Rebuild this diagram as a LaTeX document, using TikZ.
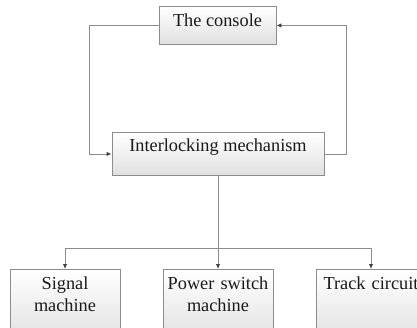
\documentclass[tikz,border=0pt]{standalone}
\usepackage{fontspec}
\setmainfont{Liberation Serif}
\usetikzlibrary{arrows.meta,positioning}
\colorlet{edge}{black!45}

\begin{document}
\begin{tikzpicture}[x=1pt,y=-1pt,
    box/.style={draw=edge,line width=0.9pt,top color=white,bottom color=black!12,
      inner sep=0pt,text=black!90,font=\fontsize{18.3}{22}\selectfont,align=center},
    link/.style={draw=edge,line width=0.9pt,-{Latex[length=5pt,width=4.5pt,color=black!75]}}]
  \useasboundingbox (0,0) rectangle (417,327);
  %
  \node[box,anchor=north,minimum width=117pt,text height=20pt,text depth=18pt] (console) at (217.5,6) {The console};
  \node[box,anchor=north,minimum width=212pt,text height=19pt,text depth=24pt] (mech) at (218,132) {Interlocking mechanism};
  % field devices
  \node[box,anchor=north,text width=110pt,text height=20pt,text depth=52pt] (signal) at (65,269) {Signal\\machine};
  \node[box,anchor=north,text width=110pt,text height=20pt,text depth=52pt] (power) at (218,269) {Power switch\\machine};
  \node[box,anchor=north,text width=110pt,text height=20pt,text depth=52pt] (track) at (371,269) {Track circuit};
  %
  \coordinate (split) at (218,248);
  % loop between console and interlocking
  \draw[link] (console.west) -- ++(-69,0) |- (mech.west);
  \draw[link] (mech.east) -- ++(22,0) |- (console.east);
  % down to the devices
  \draw[link] (mech.south) -- (power.north);
  \draw[link] (split) -| (signal.north);
  \draw[link] (split) -| (track.north);
\end{tikzpicture}
\end{document}
